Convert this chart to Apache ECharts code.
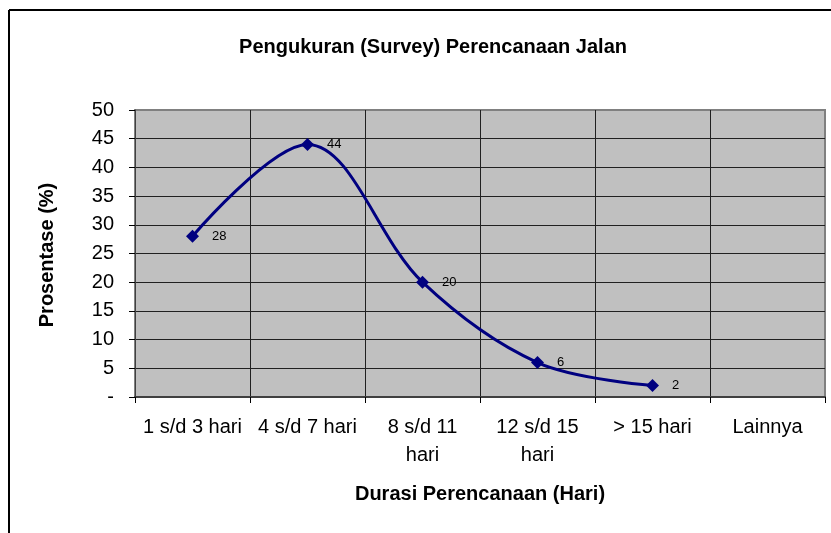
<!DOCTYPE html>
<html>
<head>
<meta charset="utf-8">
<script src="https://cdn.jsdelivr.net/npm/echarts@6/dist/echarts.min.js"></script>
<style>html,body{margin:0;padding:0;background:#fff}#c{width:831px;height:533px}</style>
</head>
<body>
<div id="c"></div>
<script>
const categories = ['1 s/d 3 hari', '4 s/d 7 hari', '8 s/d 11\nhari', '12 s/d 15\nhari', '> 15 hari', 'Lainnya'];
const values = [28, 44, 20, 6, 2, null];
const yTicks = { min: 0, max: 50, interval: 5 };
const titleText = 'Pengukuran (Survey) Perencanaan Jalan';
const xTitle = 'Durasi Perencanaan (Hari)';
const yTitle = 'Prosentase (%)';

const chart = echarts.init(document.getElementById('c'), null, { renderer: 'canvas' });
const font = 'Liberation Sans, Arial, sans-serif';
const ySplitColors = ['#202020','#202020','#202020','#202020','#202020','#202020','#202020','#202020','#202020','#202020','#808080'];
const xSplitColors = ['#404040','#202020','#202020','#202020','#202020','#202020','#808080'];
chart.setOption({
  animation: false,
  backgroundColor: '#fff',
  title: {
    text: titleText, left: 428, top: 32, textAlign: 'center',
    textStyle: { fontFamily: font, fontSize: 20, fontWeight: 'bold', color: '#000' }
  },
  grid: {
    left: 135, right: 6, top: 110, bottom: 136,
    show: true, backgroundColor: '#C0C0C0', borderColor: '#808080', borderWidth: 2
  },
  xAxis: {
    type: 'category', data: categories, boundaryGap: true,
    axisLine: { show: true, lineStyle: { color: '#404040', width: 2 } },
    axisTick: { show: true, length: 6, lineStyle: { color: '#000' } },
    splitLine: { show: true, interval: 0, lineStyle: { color: xSplitColors, width: 1 } },
    axisLabel: { interval: 0, fontFamily: font, fontSize: 20, color: '#000', margin: 16, lineHeight: 28 }
  },
  yAxis: {
    type: 'value', min: yTicks.min, max: yTicks.max, interval: yTicks.interval,
    axisLine: { show: true, lineStyle: { color: '#404040', width: 1 } },
    axisTick: { show: true, length: 6, lineStyle: { color: '#000' } },
    splitLine: { show: true, lineStyle: { color: ySplitColors, width: 1 } },
    axisLabel: { fontFamily: font, fontSize: 20, color: '#000', margin: 21,
      formatter: v => v === 0 ? '-' : String(v) }
  },
  graphic: [
    { type: 'line', shape: { x1: 9, y1: 10, x2: 831, y2: 10 }, style: { stroke: '#000', lineWidth: 2 } },
    { type: 'line', shape: { x1: 9, y1: 10, x2: 9, y2: 533 }, style: { stroke: '#000', lineWidth: 2 } },
    { type: 'text', x: 480, y: 494, style: { text: xTitle, font: 'bold 20px ' + font, fill: '#000', textAlign: 'center', textVerticalAlign: 'middle' } },
    { type: 'text', x: 47, y: 255, rotation: Math.PI / 2, style: { text: yTitle, font: 'bold 20px ' + font, fill: '#000', textAlign: 'center', textVerticalAlign: 'middle' } }
  ],
  series: [{
    type: 'line', data: values, smooth: 0.35, connectNulls: false,
    symbol: 'diamond', symbolSize: 13,
    lineStyle: { color: '#000080', width: 3 },
    itemStyle: { color: '#000080' },
    label: { show: true, position: 'right', distance: 13, fontFamily: font, fontSize: 13, color: '#000' }
  }]
});
</script>
</body>
</html>
